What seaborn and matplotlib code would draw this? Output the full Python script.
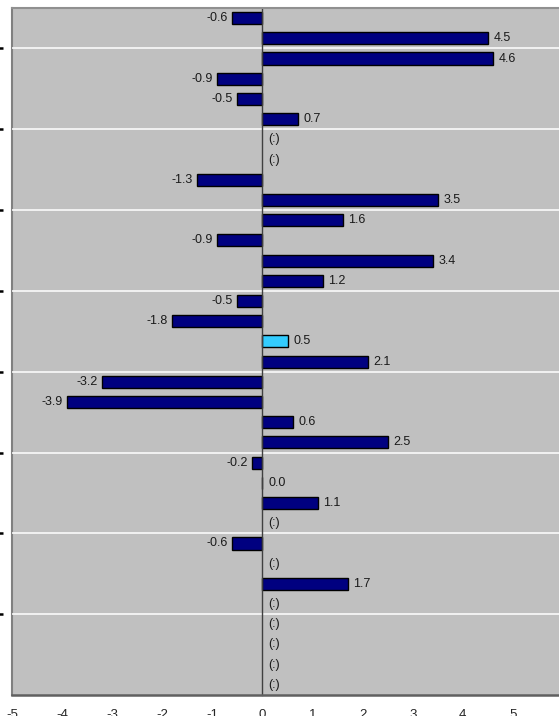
import numpy as np
import pandas as pd
import matplotlib
matplotlib.use("Agg")
import matplotlib.pyplot as plt
import seaborn as sns

# data, top to bottom (nan = not available, shown as "(:)")
categories = [f"C{i:02d}" for i in range(1, 35)]
values = [-0.6, 4.5, 4.6, -0.9, -0.5, 0.7, np.nan, np.nan, -1.3, 3.5,
          1.6, -0.9, 3.4, 1.2, -0.5, -1.8, 0.5, 2.1, -3.2, -3.9,
          0.6, 2.5, -0.2, 0.0, 1.1, np.nan, -0.6, np.nan, 1.7, np.nan,
          np.nan, np.nan, np.nan, np.nan]
highlight = "C17"
x_ticks = [-5, -4, -3, -2, -1, 0, 1, 2, 3, 4, 5, 6]

df = pd.DataFrame({"cat": categories, "val": values})
df["grp"] = np.where(df["cat"] == highlight, "hi", "base")

sns.set_style("white")
plt.rcParams["font.family"] = ["Liberation Sans", "DejaVu Sans"]
plt.rcParams["axes.unicode_minus"] = False

fig = plt.figure(figsize=(5.59, 7.16), dpi=100)
W, H = 559, 716
ax = fig.add_axes([12 / W, 21 / H, 551 / W, 687 / H])
ax.set_facecolor("#C0C0C0")

sns.barplot(data=df, x="val", y="cat", hue="grp", order=categories,
            palette={"base": "#000080", "hi": "#33CCFF"}, orient="h",
            width=0.6, edgecolor="black", linewidth=1, saturation=1,
            legend=False, ax=ax)

ax.set_xlim(-5, 6)
ax.set_ylim(len(categories) - 0.5, -0.5)
ax.set_xlabel("")
ax.set_ylabel("")

# labels next to the bars
lbl = dict(va="center", fontsize=9, color="#1a1a1a", textcoords="offset points")
for i, v in enumerate(values):
    if np.isnan(v):
        ax.annotate("(:)", (0, i), xytext=(4, 0), ha="left", **lbl)
    elif v < 0:
        ax.annotate(f"{v:.1f}", (v, i), xytext=(-3, 0), ha="right", **lbl)
    else:
        ax.annotate(f"{v:.1f}", (v, i), xytext=(4, 0), ha="left", **lbl)

# horizontal gridlines every 4 categories
grid_pos = [1.5 + 4 * k for k in range(8)]
ax.set_yticks(grid_pos)
ax.set_yticklabels([])
ax.grid(axis="y", color="white", linewidth=1.1)
ax.grid(axis="x", visible=False)
ax.set_axisbelow(True)

# category axis crossing at zero
ax.spines["left"].set_position(("data", 0))
ax.spines["left"].set_color("#404040")
ax.spines["left"].set_linewidth(1)
ax.tick_params(axis="y", direction="out", length=3, width=1, color="#404040")

ax.spines["top"].set_color("#909090")
ax.spines["top"].set_linewidth(1.5)
ax.spines["right"].set_visible(False)
ax.spines["bottom"].set_color("#606060")
ax.spines["bottom"].set_linewidth(1.8)

ax.set_xticks(x_ticks)
ax.set_xticklabels([str(t) for t in x_ticks])
ax.tick_params(axis="x", direction="out", length=4, width=1, color="#404040",
               labelsize=9.5, pad=6)

# left border of plot area
border = ax.secondary_yaxis(0)
border.spines["left"].set_color("#808080")
border.spines["left"].set_linewidth(1.5)
border.set_yticks([])

# cut-off marks at far left
marks = ax.secondary_yaxis(-0.017)
marks.spines["left"].set_visible(False)
marks.set_yticks(grid_pos)
marks.set_yticklabels([])
marks.tick_params(direction="out", length=3, width=1.8, color="black")

fig.savefig("out.png", dpi=100)
